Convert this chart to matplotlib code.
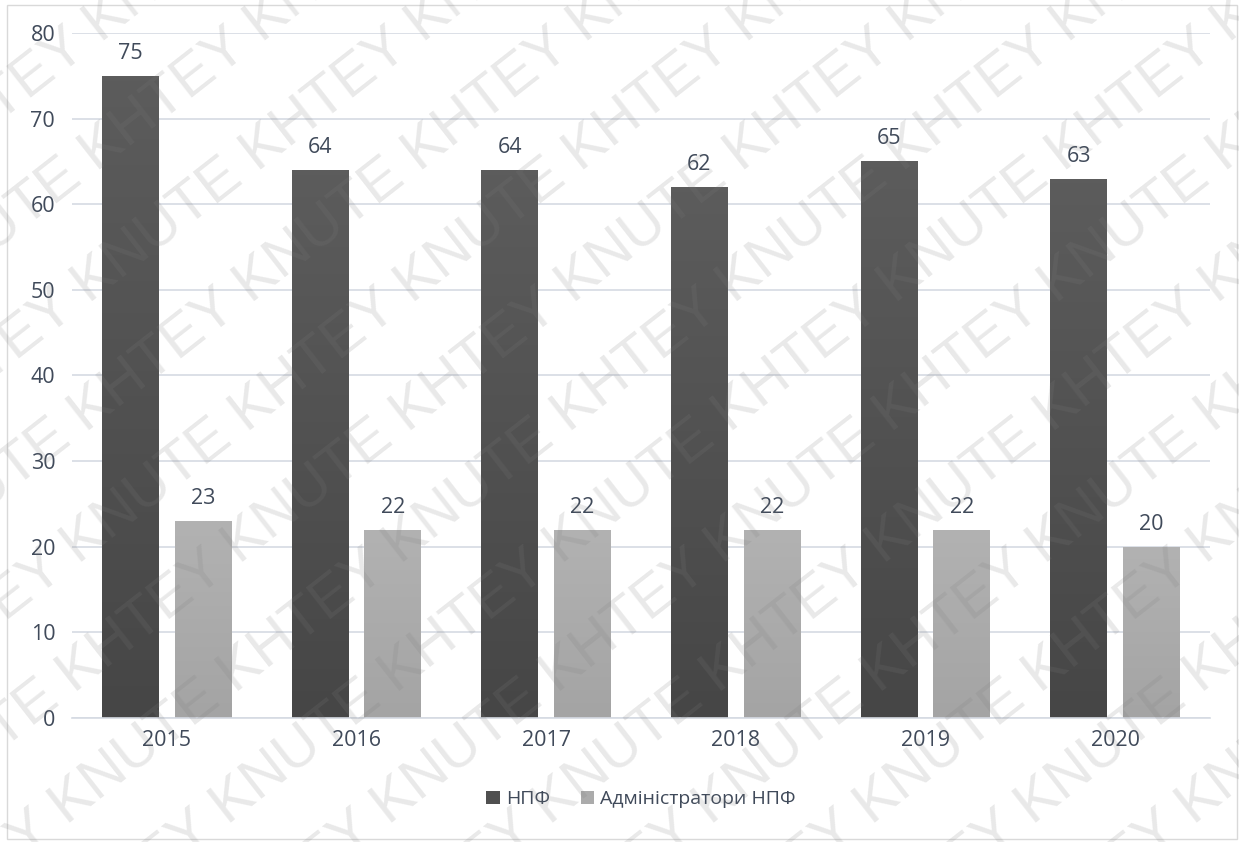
import numpy as np
import matplotlib.pyplot as plt
from matplotlib.patches import Rectangle

years = ['2015', '2016', '2017', '2018', '2019', '2020']
npf = [75, 64, 64, 62, 65, 63]
admins = [23, 22, 22, 22, 22, 20]
series_names = ['НПФ', 'Адміністратори НПФ']

plt.rcParams['font.family'] = ['Open Sans', 'DejaVu Sans']
label_color = '#404a5a'

fig = plt.figure(figsize=(12.39, 8.42), dpi=100)
ax = fig.add_axes([0.058, 0.1473, 0.9186, 0.8135])

x = np.arange(len(years))
w = 0.30
off = 0.192
dark_bars = ax.bar(x - off, npf, w, color='#505050', label=series_names[0], zorder=2)
light_bars = ax.bar(x + off, admins, w, color='#ababab', label=series_names[1], zorder=2)

# subtle vertical shading inside each bar
def shade(bars, top_c, bot_c):
    grad = np.linspace(0, 1, 100).reshape(-1, 1)
    top = np.array(top_c) / 255.0
    bot = np.array(bot_c) / 255.0
    img = top + (bot - top) * grad[..., None]
    for b in bars:
        x0, y0 = b.get_x(), b.get_y()
        im = ax.imshow(img, extent=[x0, x0 + b.get_width(), y0, y0 + b.get_height()],
                       aspect='auto', origin='upper', zorder=2.5)
        im.set_clip_path(b)

shade(dark_bars, (92, 92, 92), (70, 70, 70))
shade(light_bars, (178, 178, 178), (164, 164, 164))

for xi, v in zip(x - off, npf):
    ax.text(xi, v + 1.4, str(v), ha='center', va='bottom', fontsize=15.5, color=label_color)
for xi, v in zip(x + off, admins):
    ax.text(xi, v + 1.4, str(v), ha='center', va='bottom', fontsize=15.5, color=label_color)

ax.set_xlim(-0.5, len(years) - 0.5)
ax.set_ylim(0, 80)
ax.set_yticks(range(0, 81, 10))
ax.set_xticks(x)
ax.set_xticklabels(years)
ax.tick_params(axis='both', length=0, labelsize=15.5, labelcolor=label_color)
ax.tick_params(axis='y', pad=12)
ax.tick_params(axis='x', pad=9)
ax.grid(axis='y', color='#d5dae3', linewidth=1.2, zorder=0)
for s in ax.spines.values():
    s.set_visible(False)
ax.spines['bottom'].set_visible(True)
ax.spines['bottom'].set_color('#d5dae3')
ax.spines['bottom'].set_linewidth(1.2)

ax.legend(loc='upper center', bbox_to_anchor=(0.5, -0.08), ncol=2, frameon=False,
          fontsize=14, labelcolor=label_color, handlelength=0.7, handleheight=0.7,
          handletextpad=0.3, columnspacing=1.6)

# outer frame
fig.patches.append(Rectangle((0.006, 0.004), 0.992, 0.99, transform=fig.transFigure,
                             fill=False, edgecolor='#d9d9d9', linewidth=1.0))

# diagonal watermark
mark = ' '.join(['KNUTE KHTEY'] * 8)
for i in range(-10, 12):
    fig.text(-0.6 + i * 0.13, -0.3, mark, rotation=38, rotation_mode='anchor',
             fontsize=42, color='#7e7e7e', alpha=0.17, ha='left', va='bottom',
             family='Liberation Sans', zorder=10, clip_on=True)

fig.savefig('out.png', dpi=100)
